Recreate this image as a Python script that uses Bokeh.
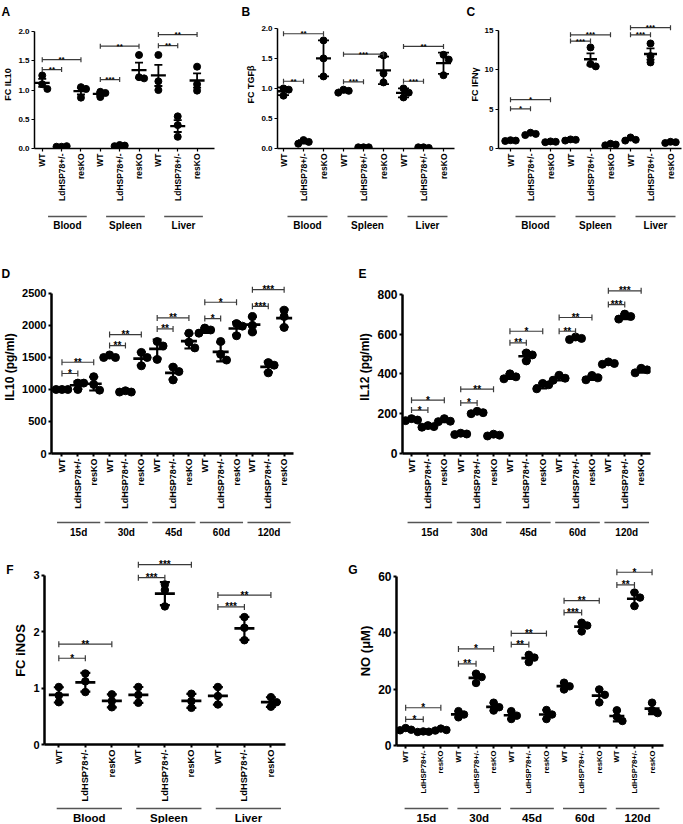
import math
import numpy as np
from bokeh.plotting import figure
from bokeh.models import Range1d, FixedTicker, NumeralTickFormatter, LinearAxis
from bokeh.layouts import row, column
from bokeh.embed import file_html
from bokeh.resources import INLINE
from bokeh.core.properties import value

FONT = "Liberation Sans"

# ---------------- data ----------------
cats = ["WT", "LdHSP78+/-", "resKO"]
tissues = ["Blood", "Spleen", "Liver"]
days = ["15d", "30d", "45d", "60d", "120d"]

# A: FC IL10 (Blood, Spleen, Liver x WT, LdHSP78+/-, resKO)
a_vals = [[1.25, 1.10, 1.02], [0.03, 0.04, 0.03], [1.05, 1.02, 0.87],
          [0.97, 0.95, 0.88], [0.06, 0.05, 0.04], [1.60, 1.22, 1.20],
          [1.60, 1.15, 1.00], [0.55, 0.40, 0.20], [1.40, 1.10, 0.99]]
a_pairs = [(0, 1), (0, 2), (3, 4), (3, 5), (6, 7), (6, 8)]
a_sig_y = [1.35, 1.52, 1.18, 1.75, 1.76, 1.95]
a_sig_t = ["**", "**", "***", "**", "**", "**"]

# B: FC TGFb
b_vals = [[1.00, 0.98, 0.88], [0.14, 0.11, 0.08], [1.80, 1.50, 1.20],
          [0.98, 0.96, 0.93], [0.02, 0.02, 0.02], [1.55, 1.25, 1.10],
          [1.00, 0.93, 0.85], [0.02, 0.01, 0.02], [1.56, 1.48, 1.22]]
b_pairs = [(0, 1), (0, 2), (3, 4), (3, 5), (6, 7), (6, 8)]
b_sig_y = [1.12, 1.91, 1.11, 1.57, 1.12, 1.70]
b_sig_t = ["**", "**", "***", "***", "***", "**"]

# C: FC IFNg
c_vals = [[1.05, 1.00, 0.95], [2.00, 1.85, 1.70], [0.90, 0.85, 0.80],
          [1.15, 1.10, 1.00], [12.8, 10.7, 10.4], [0.60, 0.50, 0.40],
          [1.40, 1.10, 1.00], [13.3, 11.7, 10.9], [0.85, 0.80, 0.70]]
c_pairs = [(0, 1), (0, 2), (3, 4), (3, 5), (6, 7), (6, 8)]
c_sig_y = [5.03, 6.18, 13.6, 14.4, 14.4, 15.3]
c_sig_t = ["*", "*", "***", "***", "***", "***"]

# D: IL10 (pg/ml) over days
d_vals = [[1000, 1000, 1000], [1100, 1100, 1000], [1200, 1080, 990],
          [1540, 1500, 1500], [980, 960, 960], [1580, 1500, 1370],
          [1750, 1680, 1470], [1350, 1280, 1150], [1880, 1740, 1650],
          [1960, 1930, 1880], [1750, 1550, 1460], [2030, 1990, 1840],
          [2140, 2000, 1900], [1420, 1380, 1260], [2240, 2140, 1970]]
d_pairs = [(0, 1), (0, 2), (3, 4), (3, 5), (6, 7), (6, 8), (9, 10), (9, 11), (12, 13), (12, 14)]
d_sig_y = [1250, 1426, 1686, 1858, 1946, 2118, 2108, 2363, 2300, 2560]
d_sig_t = ["*", "**", "**", "**", "**", "**", "*", "*", "***", "***"]

# E: IL12 (pg/ml) over days
e_vals = [[175, 168, 165], [140, 135, 132], [175, 162, 160],
          [102, 98, 95], [212, 205, 200], [97, 92, 88],
          [400, 385, 375], [505, 495, 465], [352, 345, 325],
          [393, 378, 368], [585, 578, 572], [392, 380, 370],
          [460, 452, 448], [700, 688, 675], [428, 420, 405]]
e_pairs = d_pairs
e_sig_y = [218, 268, 254, 323, 556, 614, 614, 683, 748, 817]
e_sig_t = ["*", "*", "*", "**", "**", "*", "**", "**", "***", "***"]

# F: FC iNOS
f_vals = [[1.02, 0.87, 0.75], [1.26, 1.12, 0.93], [0.89, 0.77, 0.66],
          [1.02, 0.88, 0.74], [2.84, 2.74, 2.45], [0.90, 0.77, 0.65],
          [1.02, 0.86, 0.71], [2.26, 2.07, 1.85], [0.84, 0.75, 0.67]]
f_pairs = [(0, 1), (0, 2), (3, 4), (3, 5), (6, 7), (6, 8)]
f_sig_y = [1.53, 1.78, 2.96, 3.19, 2.44, 2.65]
f_sig_t = ["*", "**", "***", "***", "***", "**"]

# G: NO (uM) over days
g_vals = [[6.2, 5.6, 5.4], [5.0, 4.9, 4.8], [6.0, 5.5, 5.3],
          [12.2, 11.0, 10.0], [25.5, 24.3, 22.2], [15.2, 13.6, 12.4],
          [12.2, 10.6, 9.4], [32.2, 31.2, 29.6], [12.6, 11.0, 9.4],
          [22.3, 21.0, 19.9], [43.6, 42.6, 40.5], [19.9, 18.0, 15.3],
          [12.5, 10.2, 8.7], [54.3, 52.5, 49.5], [15.2, 12.5, 11.5]]
g_pairs = d_pairs
g_sig_y = [9.3, 13.4, 29.0, 34.3, 35.9, 39.8, 47.2, 51.4, 57.0, 61.5]
g_sig_t = ["*", "*", "**", "*", "**", "**", "***", "**", "**", "*"]


def swarm(vals, ppu, r, spu):
    placed, offs = [], []
    for v in vals:
        yp = v * ppu
        xp = 0.0
        for k in [0, 1, -1, 2, -2, 3, -3]:
            xp = k * r * 1.5
            if all((xp - a) ** 2 + (yp - b) ** 2 >= (1.5 * r) ** 2 for a, b in placed):
                break
        placed.append((xp, yp))
        offs.append(xp / spu)
    return offs


def style_axis(ax, c):
    ax.axis_line_width = c["alw"]
    ax.axis_line_color = "black"
    ax.major_tick_line_width = c["alw"] * 0.8
    ax.major_tick_line_color = "black"
    ax.major_tick_in = 0
    ax.major_tick_out = 3
    ax.minor_tick_line_color = None
    ax.major_label_text_font = FONT
    ax.major_label_text_font_style = "bold"
    ax.major_label_text_color = "black"
    ax.major_label_standoff = 2


def make_panel(c):
    vals = c["vals"]
    n = len(vals)
    fw = c["w"] - c["ml"] - c["mr"]
    fh = c["h"] - c["mt"] - c["mb"]
    spu = fw / (c["x1"] - c["x0"])
    ppu = fh / c["y1"]
    p = figure(width=c["w"], height=c["h"], x_range=Range1d(c["x0"], c["x1"]),
               y_range=Range1d(0, c["y1"]), output_backend="svg", toolbar_location=None,
               min_border_left=c["ml"], min_border_right=c["mr"],
               min_border_top=c["mt"], min_border_bottom=c["mb"])
    p.outline_line_color = None
    p.xgrid.visible = False
    p.ygrid.visible = False
    xa = p.xaxis[0]
    ya = p.yaxis[0]
    xa.ticker = FixedTicker(ticks=list(range(n)))
    labels = [cats[i % 3] for i in range(n)]
    xa.major_label_overrides = {i: labels[i] for i in range(n)}
    xa.major_label_orientation = math.pi / 2
    style_axis(xa, c)
    style_axis(ya, c)
    xa.major_label_text_font_size = f"{c['xfs']}px"
    ya.major_label_text_font_size = f"{c['yfs']}px"
    ya.ticker = FixedTicker(ticks=c["yticks"])
    if c.get("yfmt"):
        ya.formatter = NumeralTickFormatter(format=c["yfmt"])
    ya.bounds = (0, c["yticks"][-1])
    ya.axis_label = c["ylabel"]
    ya.axis_label_text_font = FONT
    ya.axis_label_text_font_style = "bold"
    ya.axis_label_text_font_size = f"{c['lfs']}px"
    ya.axis_label_text_color = "black"
    ya.axis_label_standoff = 2

    # points
    xs, ys = [], []
    for i, v in enumerate(vals):
        offs = swarm(v, ppu, c["dot"] / 2.0, spu)
        xs += [i + o for o in offs]
        ys += list(v)
    p.scatter(xs, ys, size=c["dot"], color="black")

    # mean and error bars
    idx = list(range(n))
    means = [float(np.mean(v)) for v in vals]
    errs = []
    for v in vals:
        sd = float(np.std(v, ddof=1))
        errs.append(sd / math.sqrt(len(v)) if c["err"] == "sem" else sd)
    lo = [m - e for m, e in zip(means, errs)]
    hi = [m + e for m, e in zip(means, errs)]
    p.segment(x0=idx, y0=lo, x1=idx, y1=hi, line_width=c["elw"], line_color="black")
    p.scatter(x=idx + idx, y=lo + hi, marker="dash", size=c["cap"],
              line_width=c["elw"], line_color="black")
    p.scatter(x=idx, y=means, marker="dash", size=c["mw"], line_width=c["elw"] + 0.5,
              line_color="black")

    # significance brackets
    pa = [a for a, b in c["pairs"]]
    pb = [b for a, b in c["pairs"]]
    p.segment(x0=pa, y0=c["sy"], x1=pb, y1=c["sy"], line_width=1.2, line_color="#3a3a3a")
    p.scatter(x=pa + pb, y=c["sy"] + c["sy"], marker="dash", angle=math.pi / 2,
              size=c["bcap"], line_width=1.2, line_color="#3a3a3a")
    p.text(x=[(a + b) / 2 for a, b in c["pairs"]], y=c["sy"], text=c["st"],
           text_font=value(FONT), text_font_style="bold", text_font_size=f"{c['sfs']}px",
           text_align="center", text_baseline="alphabetic", text_color="black")

    # panel letter
    if c["lmode"] == "title":
        p.title.text = c["letter"]
        p.title.align = "left"
        p.title.offset = c["loff"]
        p.title.standoff = c["lst"]
        p.title.text_font = FONT
        p.title.text_font_style = "bold"
        p.title.text_font_size = "12px"
        p.title.text_color = "black"
    else:
        ly = c["lety"]
        extra = LinearAxis(ticker=FixedTicker(ticks=[ly]), major_label_overrides={ly: c["letter"]},
                           axis_line_color=None, major_tick_line_color=None,
                           minor_tick_line_color=None, major_label_text_font=FONT,
                           major_label_text_font_style="bold", major_label_text_font_size="12px",
                           major_label_text_color="black", major_label_standoff=c["lstand"])
        p.add_layout(extra, "left")
    return p


def make_groups(c, p):
    gh = c["gh"]
    g = figure(width=c["w"], height=gh, x_range=p.x_range, y_range=Range1d(gh, 0),
               output_backend="svg", toolbar_location=None,
               min_border_left=c["ml"], min_border_right=c["mr"],
               min_border_top=0, min_border_bottom=0,
               x_axis_location=None, y_axis_location=None)
    g.outline_line_color = None
    g.grid.visible = False
    names = c["groups"]
    k = len(names)
    centers = [3 * j + 1 + c["goff"] for j in range(k)]
    g.segment(x0=[x - c["ghw"] for x in centers], y0=[c["gline"]] * k,
              x1=[x + c["ghw"] for x in centers], y1=[c["gline"]] * k,
              line_color="#555555", line_width=1.6)
    g.text(x=centers, y=[c["gtext"]] * k, text=names, text_font=value(FONT),
           text_font_style="bold", text_font_size=f"{c['gfs']}px", text_align="center",
           text_baseline="middle", text_color="black")
    return g


common_top = dict(h=208, mt=18, mb=60, alw=1.5, yfs=8, xfs=8.5, lfs=9, dot=7, elw=1.8,
                  bcap=5, sfs=8, gh=26, gline=8, gtext=17, gfs=10, groups=tissues,
                  lmode="title", lst=4)
cfg_a = dict(common_top, vals=a_vals, pairs=a_pairs, sy=a_sig_y, st=a_sig_t, w=229, ml=29, mr=15,
             x0=-0.4, x1=8.9, y1=2.19, yticks=[0, 0.5, 1.0, 1.5, 2.0], yfmt="0.0",
             ylabel="FC IL10", err="sem", cap=8, mw=15, letter="A", loff=-33,
             goff=0.3, ghw=1.0)
cfg_b = dict(common_top, vals=b_vals, pairs=b_pairs, sy=b_sig_y, st=b_sig_t, w=226, ml=48, mr=1,
             x0=-0.3, x1=8.55, y1=2.131, yticks=[0, 0.5, 1.0, 1.5, 2.0], yfmt="0.0",
             ylabel="FC TGFβ", err="sd", cap=11, mw=15, letter="B", loff=-36,
             goff=0.2, ghw=1.0)
cfg_c = dict(common_top, vals=c_vals, pairs=c_pairs, sy=c_sig_y, st=c_sig_t, w=228, ml=43, mr=2,
             x0=-0.6, x1=8.55, y1=16.21, yticks=[0, 5, 10, 15], yfmt=None,
             ylabel="FC IFNγ", err="sem", cap=8, mw=13, letter="C", loff=-32,
             goff=0.25, ghw=1.0)

common_mid = dict(h=278, mt=46, mb=59, alw=2.5, xfs=9, lfs=12, dot=8, elw=2.2,
                  bcap=6, sfs=10, gh=26, gline=10, gtext=20, gfs=10, groups=days,
                  err="sd", cap=9, mw=16, yfmt=None, lmode="title", lst=0)
cfg_d = dict(common_mid, vals=d_vals, pairs=d_pairs, sy=d_sig_y, st=d_sig_t, w=345, ml=46, mr=52,
             x0=-0.66, x1=14.59, y1=2703, yticks=[0, 500, 1000, 1500, 2000, 2500], yfs=11,
             ylabel="IL10 (pg/ml)", letter="D", loff=-50, goff=0.05, ghw=1.36)
cfg_e = dict(common_mid, vals=e_vals, pairs=e_pairs, sy=e_sig_y, st=e_sig_t, w=338, ml=57, mr=33,
             x0=-0.55, x1=14.57, y1=868.8, yticks=[0, 200, 400, 600, 800], yfs=12,
             ylabel="IL12 (pg/ml)", letter="E", loff=-44, goff=0.12, ghw=1.36)

common_bot = dict(h=266, mt=18, mb=59, alw=2.5, elw=2.2, bcap=6, sfs=10, gh=19,
                  gline=4, gtext=13.5, gfs=11.5, err="sd", yfmt=None, lfs=13, lmode="axis")
cfg_f = dict(common_bot, vals=f_vals, pairs=f_pairs, sy=f_sig_y, st=f_sig_t, w=345, ml=44, mr=60,
             x0=-0.54, x1=8.55, y1=3.335, yticks=[0, 1, 2, 3], ylabel="FC iNOS", yfs=11,
             xfs=9.3, dot=7.5, cap=10, mw=20, letter="F", lety=3.1, lstand=-9,
             groups=tissues, goff=0.15, ghw=1.23)
cfg_g = dict(common_bot, vals=g_vals, pairs=g_pairs, sy=g_sig_y, st=g_sig_t, w=338, ml=48, mr=20,
             x0=-0.52, x1=14.65, y1=67.1, yticks=[0, 20, 40, 60], ylabel="NO (μM)", yfs=12,
             xfs=7.7, dot=7.5, cap=8, mw=15, letter="G", lety=62.3, lstand=-8,
             groups=days, goff=0.18, ghw=1.24)

cols = []
for cfg in (cfg_a, cfg_b, cfg_c, cfg_d, cfg_e, cfg_f, cfg_g):
    pm = make_panel(cfg)
    pg = make_groups(cfg, pm)
    cols.append(column(pm, pg))

layout = column(row(cols[0], cols[1], cols[2]), row(cols[3], cols[4]), row(cols[5], cols[6]))

with open("out.html", "w") as fh:
    fh.write(file_html(layout, INLINE))
